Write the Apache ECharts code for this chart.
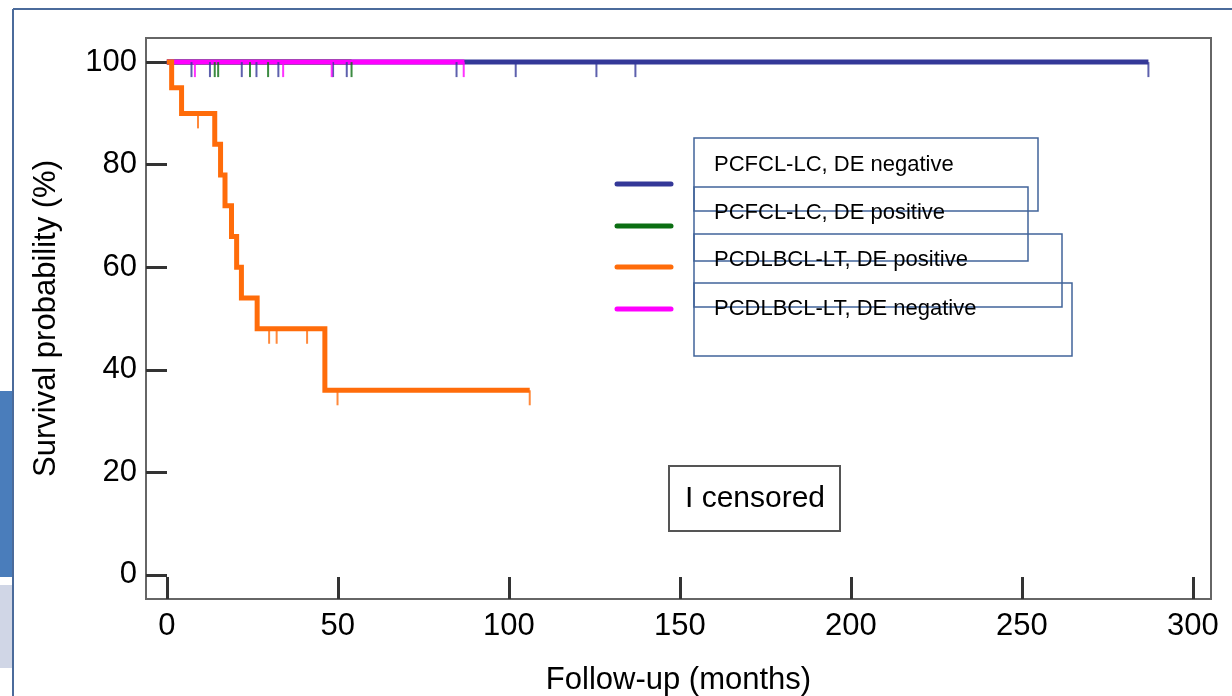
<!DOCTYPE html>
<html>
<head>
<meta charset="utf-8">
<script src="https://cdn.jsdelivr.net/npm/echarts@6/dist/echarts.min.js"></script>
<style>
html,body{margin:0;padding:0;background:#fff;}
#chart{width:1232px;height:696px;}
</style>
</head>
<body>
<div id="chart"></div>
<script>
// ---- data ----
const xTicks = [0, 50, 100, 150, 200, 250, 300];
const yTicks = [0, 20, 40, 60, 80, 100];
const xAxisTitle = 'Follow-up (months)';
const yAxisTitle = 'Survival probability (%)';
const seriesNames = ['PCFCL-LC, DE negative', 'PCFCL-LC, DE positive', 'PCDLBCL-LT, DE positive', 'PCDLBCL-LT, DE negative'];
const seriesColors = ['#343898', '#0b6e12', '#ff6c0a', '#ff00ff'];
const censoredLabel = 'I censored';

const blueCurve = [[0, 100], [287, 100]];
const blueCensor = [7.2, 12.6, 21.9, 26.2, 32.6, 48.6, 52.6, 84.7, 102, 125.6, 137, 287];
const greenCurve = [[0, 100], [54, 100]];
const greenCensor = [14, 15, 24.3, 29.6, 54];
const magentaCurve = [[0, 100], [87, 100]];
const magentaCensor = [8.2, 34, 48.2, 86.8];
const orangeCurve = [[0, 100], [1.4, 95], [4.3, 90], [14, 84], [15.7, 78], [17, 72], [18.9, 66], [20.4, 60], [21.8, 54], [26.4, 48], [46.2, 36], [106.1, 36]];
const orangeCensor = [[9.1, 90], [29.9, 48], [32.1, 48], [41, 48], [49.9, 36], [106.1, 36]];

// ---- chart ----
const FONT = "'Liberation Sans', Arial, sans-serif";
const chart = echarts.init(document.getElementById('chart'), null, {renderer: 'canvas'});

function censorSeries(name, pts, color, len) {
  return {
    name: name, type: 'scatter', data: pts,
    symbol: 'rect', symbolSize: [2, len], symbolOffset: [0, len / 2],
    itemStyle: {color: color}, z: 5, silent: true
  };
}
function curveSeries(name, pts, color, z) {
  return {
    name: name, type: 'line', data: pts, step: 'end', showSymbol: false,
    lineStyle: {color: color, width: 5, cap: 'butt', join: 'miter'}, z: z, silent: true
  };
}

const legendYs = [184, 226, 267, 309];
const legendBoxes = [[694, 138, 344, 73], [694, 187, 334, 74], [694, 234, 368, 73], [694, 283, 378, 73]];
const legendTextYs = [165, 213, 260, 309];

const graphics = [
  // page decorations
  {type: 'rect', shape: {x: 0, y: 391, width: 12, height: 186}, style: {fill: '#4a7dbb'}, silent: true},
  {type: 'rect', shape: {x: 0, y: 585, width: 12, height: 83}, style: {fill: '#d0d6e6'}, silent: true},
  {type: 'line', shape: {x1: 13, y1: 9, x2: 1232, y2: 9}, style: {stroke: '#4b6b9b', lineWidth: 2}, silent: true},
  {type: 'line', shape: {x1: 13, y1: 9, x2: 13, y2: 696}, style: {stroke: '#4b6b9b', lineWidth: 2}, silent: true},
  // censored box
  {type: 'rect', shape: {x: 669, y: 466, width: 171, height: 65}, style: {fill: '#fff', stroke: '#555', lineWidth: 2}, z: 10, silent: true},
  {type: 'text', x: 755, y: 499, style: {text: censoredLabel, font: '30px ' + FONT, fill: '#000', align: 'center', verticalAlign: 'middle'}, z: 11, silent: true}
];
seriesNames.forEach((n, i) => {
  graphics.push({type: 'line', shape: {x1: 617, y1: legendYs[i], x2: 671, y2: legendYs[i]}, style: {stroke: seriesColors[i], lineWidth: 5, lineCap: 'round'}, z: 10, silent: true});
  const b = legendBoxes[i];
  graphics.push({type: 'rect', shape: {x: b[0], y: b[1], width: b[2], height: b[3]}, style: {fill: 'transparent', stroke: '#41649a', lineWidth: 1.5}, z: 10, silent: true});
  graphics.push({type: 'text', x: 714, y: legendTextYs[i], style: {text: n, font: "22px 'Liberation Sans', Arial, sans-serif", fill: '#000', verticalAlign: 'middle'}, z: 12, silent: true});
});

const option = {
  backgroundColor: '#fff',
  animation: false,
  grid: {left: 146, top: 38, right: 21, bottom: 97, show: true, borderColor: '#666', borderWidth: 2, containLabel: false, outerBoundsMode: 'none'},
  xAxis: {
    type: 'value', min: -6.1, max: 305.3,
    name: xAxisTitle, nameLocation: 'middle', nameGap: 66,
    nameTextStyle: {fontFamily: FONT, fontSize: 31, color: '#000'},
    axisLine: {show: false, onZero: false},
    axisTick: {show: true, inside: true, length: 22, customValues: xTicks, lineStyle: {color: '#333', width: 3}},
    axisLabel: {show: true, customValues: xTicks, margin: 12, fontFamily: FONT, fontSize: 31, color: '#000'},
    splitLine: {show: false}
  },
  yAxis: {
    type: 'value', min: -4.7, max: 104.7,
    name: yAxisTitle, nameLocation: 'middle', nameGap: 84,
    nameTextStyle: {fontFamily: FONT, fontSize: 31, color: '#000'},
    axisLine: {show: false, onZero: false},
    axisTick: {show: true, inside: true, length: 21, customValues: yTicks, lineStyle: {color: '#333', width: 3}},
    axisLabel: {show: true, customValues: yTicks, margin: 9, fontFamily: FONT, fontSize: 31, color: '#000'},
    splitLine: {show: false}
  },
  series: [
    curveSeries(seriesNames[0], blueCurve, seriesColors[0], 2),
    curveSeries(seriesNames[1], greenCurve, seriesColors[1], 3),
    curveSeries(seriesNames[3], magentaCurve, seriesColors[3], 4),
    curveSeries(seriesNames[2], orangeCurve, seriesColors[2], 4),
    censorSeries(seriesNames[0] + ' censored', blueCensor.map(x => [x, 100]), seriesColors[0], 15),
    censorSeries(seriesNames[1] + ' censored', greenCensor.map(x => [x, 100]), seriesColors[1], 15),
    censorSeries(seriesNames[3] + ' censored', magentaCensor.map(x => [x, 100]), seriesColors[3], 15),
    censorSeries(seriesNames[2] + ' censored', orangeCensor, seriesColors[2], 15)
  ],
  graphic: graphics
};
chart.setOption(option);
</script>
</body>
</html>
